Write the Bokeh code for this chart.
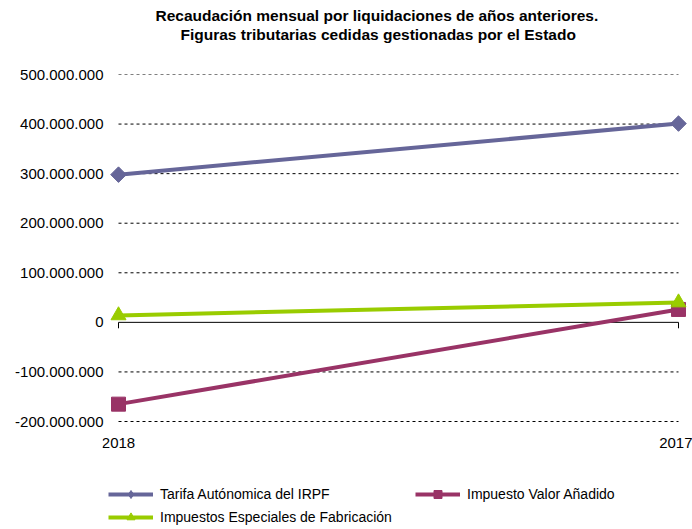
import math
from bokeh.plotting import figure
from bokeh.models import Range1d, FixedTicker, Title, Legend, LegendItem
from bokeh.embed import file_html
from bokeh.resources import INLINE

categories = ["2018", "2017"]
irpf = [298_000_000, 401_000_000]
iva = [-165_000_000, 26_000_000]
ief = [14_000_000, 40_000_000]
series_names = ["Tarifa Autónomica del IRPF", "Impuesto Valor Añadido",
                "Impuestos Especiales de Fabricación"]
y_ticks = [-200_000_000, -100_000_000, 0, 100_000_000, 200_000_000,
           300_000_000, 400_000_000, 500_000_000]
y_tick_labels = ["-200.000.000", "-100.000.000", "0", "100.000.000",
                 "200.000.000", "300.000.000", "400.000.000", "500.000.000"]
title_lines = ["Recaudación mensual por liquidaciones de años anteriores.",
               "Figuras tributarias cedidas gestionadas por el Estado"]

FONT = "Liberation Sans"
x = list(range(len(categories)))

W, H = 692, 529
LEFT, TOP = 102, 74
PLOT_H = 347            # pixel height of the value area (-200M .. 500M)
EXTRA = H - TOP - PLOT_H  # room below the value area for labels + legend
span = y_ticks[-1] - y_ticks[0]
y_start = y_ticks[0] - EXTRA / PLOT_H * span

p = figure(width=W, height=H, output_backend="svg",
           toolbar_location=None, title=None,
           x_range=Range1d(-16 / 560, 1 + 14 / 560),
           y_range=Range1d(y_start, y_ticks[-1]),
           min_border_left=LEFT, min_border_right=0, min_border_top=TOP,
           min_border_bottom=0)
p.outline_line_color = None
p.background_fill_color = "white"
p.border_fill_color = "white"
p.xgrid.visible = False
p.ygrid.visible = False

# axes
p.yaxis.ticker = FixedTicker(ticks=y_ticks)
p.yaxis.major_label_overrides = {t: l for t, l in zip(y_ticks, y_tick_labels)}
p.yaxis.axis_line_color = None
p.yaxis.major_tick_line_color = None
p.yaxis.minor_tick_line_color = None
p.yaxis.major_tick_out = 0
p.yaxis.major_tick_in = 0
p.yaxis.minor_tick_out = 0
p.yaxis.major_label_standoff = -1
p.yaxis.major_label_text_font = FONT
p.yaxis.major_label_text_font_size = "15px"
p.yaxis.major_label_text_color = "black"

p.xaxis.ticker = FixedTicker(ticks=x)
p.xaxis.fixed_location = y_ticks[0]
p.xaxis.major_label_overrides = {i: c for i, c in zip(x, categories)}
p.xaxis.axis_line_color = None
p.xaxis.major_tick_line_color = None
p.xaxis.minor_tick_line_color = None
p.xaxis.major_tick_out = 0
p.xaxis.major_tick_in = 0
p.xaxis.minor_tick_out = 0
p.xaxis.major_label_standoff = 16
p.xaxis.major_label_text_font = FONT
p.xaxis.major_label_text_font_size = "15px"
p.xaxis.major_label_text_color = "black"

# gridlines (dashed) and zero axis line
grid_vals = [t for t in y_ticks if t != 0]
p.segment(x0=[x[0]] * len(grid_vals), x1=[x[-1]] * len(grid_vals),
          y0=grid_vals, y1=grid_vals, line_color="black", line_width=1,
          line_dash="3 3")
p.segment(x0=[x[0]], x1=[x[-1]], y0=[0], y1=[0], line_color="black",
          line_width=1)
tick_len = 12_000_000
p.segment(x0=x, x1=x, y0=[0] * len(x), y1=[-tick_len] * len(x),
          line_color="black", line_width=1)

colors = ["#666699", "#993366", "#99CC00"]
markers = ["square", "square", "triangle"]
angles = [math.pi / 4, 0, 0]
legend_markers = ["diamond", "square", "triangle"]
sizes = [11, 14, 15]
data = [irpf, iva, ief]
items = []
for name, col, mk, lmk, ang, sz, vals in zip(series_names, colors, markers,
                                             legend_markers, angles, sizes,
                                             data):
    r1 = p.line(x, vals, line_color=col, line_width=4)
    p.scatter(x, vals, marker=mk, size=sz, angle=ang, fill_color=col,
              line_color=col)
    # legend marker glyph (zero size in the chart itself)
    r3 = p.scatter(x, vals, marker=lmk, size=0, fill_color=col,
                   line_color=col)
    items.append(LegendItem(label=name, renderers=[r1, r3]))

# title: spacer next to the frame, then line 2, then line 1
title_style = dict(align="left", text_font=FONT, text_font_size="15.5px",
                   text_font_style="bold", text_color="black")
p.add_layout(Title(text=" ", text_font_size="10px", standoff=19), "above")
p.add_layout(Title(text=title_lines[1], offset=78, standoff=0, **title_style),
             "above")
p.add_layout(Title(text=title_lines[0], offset=53, standoff=0, **title_style),
             "above")

legend_style = dict(orientation="horizontal",
                    background_fill_alpha=0, border_line_color=None,
                    glyph_width=45, glyph_height=20, label_height=14,
                    label_width=200, label_standoff=7, spacing=55, padding=2,
                    margin=0, label_text_font=FONT,
                    label_text_font_size="14px", label_text_color="black")
p.add_layout(Legend(items=items[:2], location=(6, 25), **legend_style),
             "center")
p.add_layout(Legend(items=items[2:], location=(6, 2), **legend_style),
             "center")

open("out.html", "w").write(file_html(p, INLINE))
